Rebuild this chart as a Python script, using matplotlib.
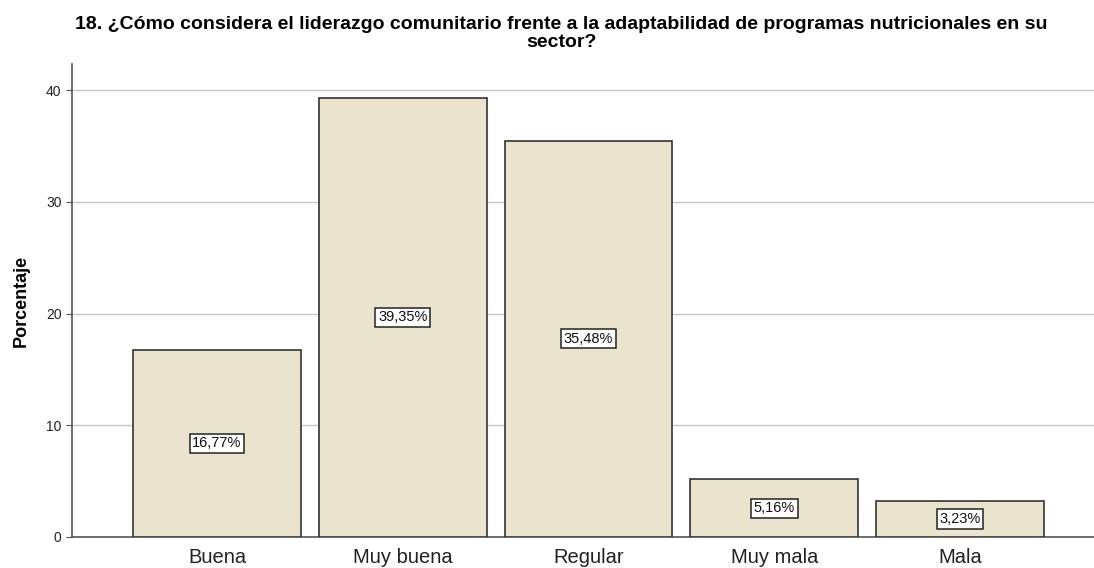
import matplotlib
matplotlib.use("Agg")
import matplotlib.pyplot as plt

categories = ["Buena", "Muy buena", "Regular", "Muy mala", "Mala"]
values = [16.77, 39.35, 35.48, 5.16, 3.23]
labels = ["16,77%", "39,35%", "35,48%", "5,16%", "3,23%"]
yticks = [0, 10, 20, 30, 40]
title = "18. ¿Cómo considera el liderazgo comunitario frente a la adaptabilidad de programas nutricionales en su\nsector?"

plt.rcParams['font.family'] = ['Liberation Sans', 'DejaVu Sans']

fig = plt.figure(figsize=(10.94, 5.68), dpi=100)
ax = fig.add_axes([72/1094, 1-537/568, 1-72/1094, (537-64)/568])

x = range(len(categories))
ax.bar(x, values, width=0.903, color="#EAE3CD", edgecolor="#333333", linewidth=1.2, zorder=3)
for xi, v, lab in zip(x, values, labels):
    ax.text(xi, v/2, lab, ha="center", va="center", fontsize=10.5, color="#111111", zorder=4,
            bbox=dict(boxstyle="square,pad=0.18", facecolor="white", edgecolor="#222222", linewidth=1.1))

ax.set_xlim(-0.78, 4.72)
ax.set_ylim(0, 42.35)
ax.set_yticks(yticks)
ax.set_xticks(list(x))
ax.set_xticklabels(categories, fontsize=14.5, color="#222222")
ax.tick_params(axis='y', labelsize=10, length=4, color="#555555", labelcolor="#222222")
ax.tick_params(axis='x', length=0, pad=8)
ax.yaxis.grid(True, color="#C8C8C8", linewidth=1, zorder=0)
for s in ["top", "right"]:
    ax.spines[s].set_visible(False)
for s in ["left", "bottom"]:
    ax.spines[s].set_color("#555555")
    ax.spines[s].set_linewidth(1.2)
ax.set_ylabel("Porcentaje", fontsize=13, fontweight="bold", labelpad=12)
fig.suptitle(title, fontsize=14, fontweight="bold", x=0.513, y=0.972, linespacing=1.1)

fig.savefig("out.png", dpi=100)
